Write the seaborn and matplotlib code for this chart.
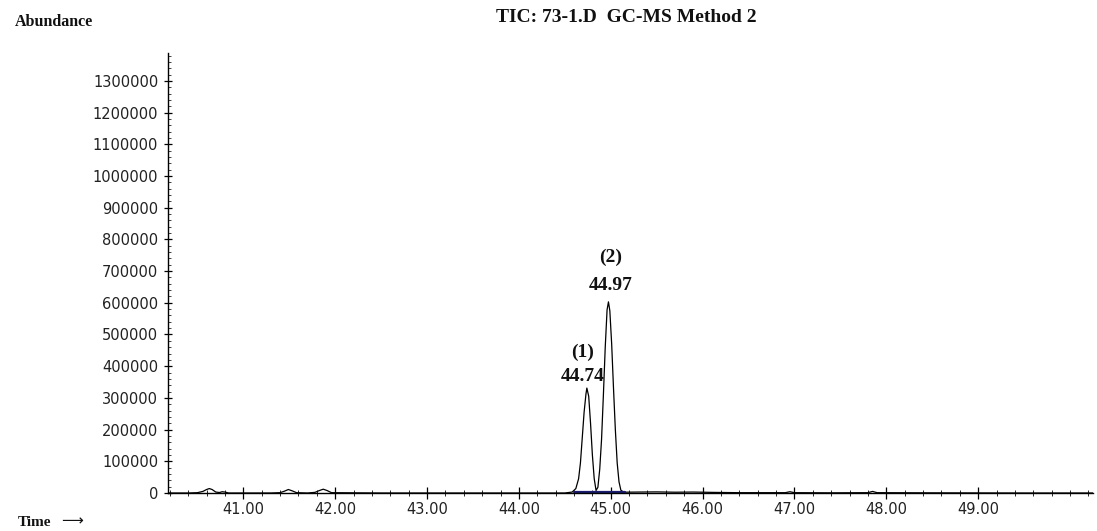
import matplotlib
matplotlib.use("Agg")
import matplotlib.pyplot as plt
from matplotlib.ticker import MultipleLocator, FixedLocator
import seaborn as sns
import pandas as pd

# ---- data ----
time_min = [40.18, 40.40, 40.50, 40.56, 40.60, 40.63, 40.66, 40.70, 40.74, 40.77, 40.80, 40.84,
            41.30, 41.40, 41.45, 41.49, 41.53, 41.58, 41.70, 41.78, 41.83, 41.87, 41.91, 41.96,
            42.50, 43.50, 44.50, 44.58, 44.62, 44.65, 44.67, 44.69, 44.71, 44.73, 44.74, 44.76,
            44.78, 44.80, 44.82, 44.84, 44.86, 44.88, 44.90, 44.92, 44.94, 44.96, 44.975,
            44.99, 45.01, 45.03, 45.05, 45.07, 45.09, 45.11, 45.14, 45.30, 45.50, 45.70, 45.90,
            46.10, 46.40, 46.90, 46.95, 47.00, 47.40, 47.80, 47.85, 47.90, 48.50, 49.50, 50.25]
abundance = [0, 0, 1000, 5000, 11000, 14000, 11000, 3000, 1500, 4000, 3000, 0,
             0, 1000, 6000, 11000, 7000, 1000, 0, 2000, 8000, 12000, 8000, 1000,
             0, 0, 0, 3000, 14000, 45000, 95000, 175000, 255000, 312000, 331000, 305000,
             220000, 120000, 45000, 8000, 18000, 75000, 170000, 310000, 460000, 578000, 603000,
             575000, 470000, 330000, 200000, 95000, 35000, 9000, 2500, 3000, 3500, 2500, 3000,
             2000, 1000, 1000, 4000, 1000, 500, 1000, 5000, 1000, 500, 0, 0]

baseline_time = [44.60, 45.15]
baseline_level = [2500, 2500]

peak_times = [44.74, 44.97]
peak_heights = [331000, 603000]
peak_numbers = ["(1)", "(2)"]
peak_labels = ["44.74", "44.97"]

y_ticks = [0, 100000, 200000, 300000, 400000, 500000, 600000, 700000,
           800000, 900000, 1000000, 1100000, 1200000, 1300000]
x_ticks = [41.0, 42.0, 43.0, 44.0, 45.0, 46.0, 47.0, 48.0, 49.0]
x_tick_labels = ["41.00", "42.00", "43.00", "44.00", "45.00", "46.00", "47.00", "48.00", "49.00"]

title_text = "TIC: 73-1.D  GC-MS Method 2"
y_label_text = "Abundance"
x_label_text = "Time"

# ---- drawing ----
sns.set_theme(style="ticks")
plt.rcParams["font.family"] = ["DejaVu Sans"]

fig = plt.figure(figsize=(10.97, 5.31), dpi=100)
fig.patch.set_facecolor("white")
ax = fig.add_axes([168 / 1097, 38 / 531, 925 / 1097, 440 / 531])
ax.set_facecolor("white")

df = pd.DataFrame({"time": time_min, "abundance": abundance})
sns.lineplot(data=df, x="time", y="abundance", ax=ax, color="black",
             linewidth=0.9, sort=False, estimator=None)
ax.plot(baseline_time, baseline_level, color="#1a1a6e", linewidth=1.6)

ax.set_xlim(40.18, 50.25)
ax.set_ylim(0, 1388000)

for s in ["top", "right"]:
    ax.spines[s].set_visible(False)
for s in ["left", "bottom"]:
    ax.spines[s].set_linewidth(1.0)
    ax.spines[s].set_color("black")

ax.xaxis.set_major_locator(FixedLocator(x_ticks))
ax.set_xticklabels(x_tick_labels)
ax.xaxis.set_minor_locator(MultipleLocator(0.2))
ax.yaxis.set_major_locator(FixedLocator(y_ticks))
ax.set_yticklabels([str(v) for v in y_ticks])
ax.yaxis.set_minor_locator(MultipleLocator(20000))

ax.tick_params(axis="x", which="major", direction="inout", length=9, width=0.9,
               labelsize=10.5, pad=2, colors="black", labelcolor="#222222")
ax.tick_params(axis="x", which="minor", direction="inout", length=5, width=0.7)
ax.tick_params(axis="y", which="major", direction="inout", length=6, width=0.9,
               labelsize=10.5, pad=4, colors="black", labelcolor="#222222")
ax.tick_params(axis="y", which="minor", direction="in", length=2, width=0.6)

ax.set_xlabel("")
ax.set_ylabel("")

serif = ["Liberation Serif", "DejaVu Serif"]
for t, h, num, lab, dx, dy_lab, dy_num in zip(peak_times, peak_heights, peak_numbers,
                                             peak_labels, [-3, 2], [8, 12], [26, 32]):
    ax.annotate(lab, xy=(t, h), xytext=(dx, dy_lab), textcoords="offset points",
                ha="center", va="center", fontsize=14, fontweight="bold",
                family=serif, color="#111111")
    ax.annotate(num, xy=(t, h), xytext=(dx, dy_num), textcoords="offset points",
                ha="center", va="center", fontsize=14, fontweight="bold",
                family=serif, color="#111111")

fig.text(626 / 1097, 1 - 17 / 531, title_text, ha="center", va="center",
         fontsize=14, fontweight="bold", family=serif, color="#111111")
fig.text(15 / 1097, 1 - 22 / 531, y_label_text, ha="left", va="center",
         fontsize=11.5, fontweight="bold", family=serif, color="#111111")
fig.text(18 / 1097, 1 - 523 / 531, x_label_text, ha="left", va="center",
         fontsize=11, fontweight="bold", family=serif, color="#111111")
fig.text(61 / 1097, 1 - 521 / 531, "\u27f6", ha="left", va="center",
         fontsize=11, family=["DejaVu Sans"], color="#111111")

fig.savefig("out.png", dpi=100, facecolor="white")
